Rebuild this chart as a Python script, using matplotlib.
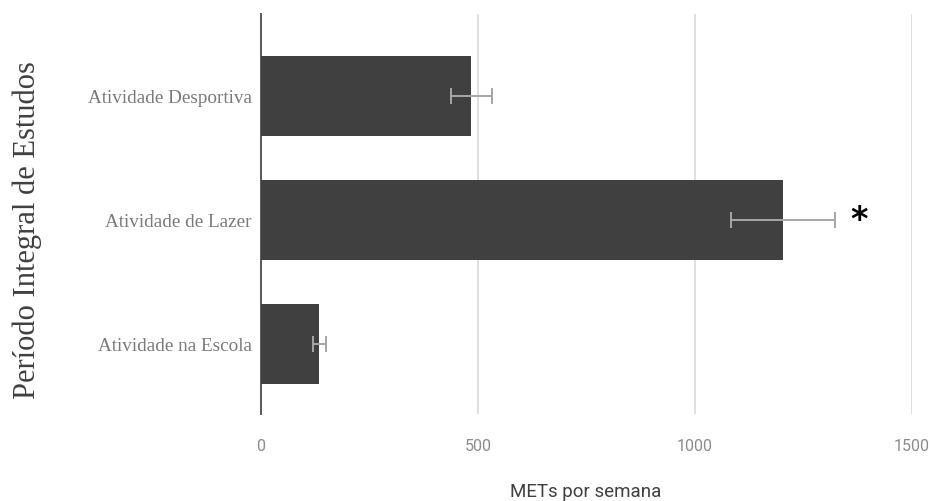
import numpy as np
import matplotlib.pyplot as plt

categories = ['Atividade na Escola', 'Atividade de Lazer', 'Atividade Desportiva']
mets = [134, 1203, 485]
errors = [15, 120, 48]
x_ticks = [0, 500, 1000, 1500]

fig = plt.figure(figsize=(9.33, 5.02), dpi=100)
ax = fig.add_axes([0.2797, 0.1733, 0.6978, 0.7967])

y = np.arange(len(categories))
ax.barh(y, mets, height=0.645, color='#404040', zorder=3,
        xerr=errors, error_kw=dict(ecolor='#a6a6a6', elinewidth=1.4,
                                   capsize=6, capthick=1.4, zorder=4))

# significance mark on the leisure bar
ax.text(1378, 1.0, '*', fontsize=24, fontweight='bold', color='black',
        ha='center', va='center')

ax.set_xlim(0, 1500)
ax.set_ylim(-0.565, 2.66)
ax.set_xticks(x_ticks)
ax.set_xticklabels([str(t) for t in x_ticks], family='Roboto',
                   color='#8c8c8c', fontsize=11.5)
ax.set_yticks(y)
ax.set_yticklabels(categories, family='Liberation Serif', color='#7a7a7a',
                   fontsize=13.8)
ax.tick_params(length=0, axis='x', pad=17)
ax.tick_params(length=0, axis='y', pad=6.5)

ax.xaxis.grid(True, color='#d9d9d9', linewidth=1.2, zorder=0)
ax.set_axisbelow(True)
for s in ['top', 'right', 'bottom']:
    ax.spines[s].set_visible(False)
ax.spines['left'].set_color('#595959')
ax.spines['left'].set_linewidth(1.4)

fig.text(0.628, 1 - 492 / 502, 'METs por semana', family='Roboto',
         color='#404040', fontsize=13.5, ha='center', va='center')
fig.text(27 / 933, 1 - 230 / 502, 'Período Integral de Estudos',
         family='Liberation Serif', color='#404040', fontsize=22,
         rotation=90, ha='center', va='center')

fig.savefig('out.png', dpi=100)
